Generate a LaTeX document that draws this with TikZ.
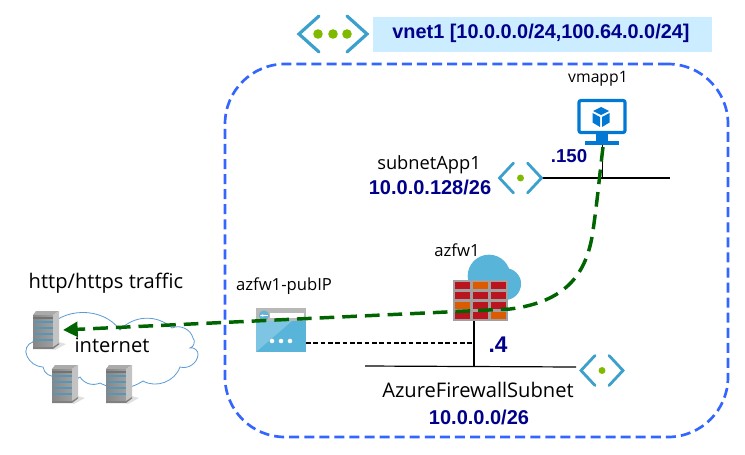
\documentclass[tikz,border=0pt]{standalone}
\usepackage{fontspec}
\setmainfont{Open Sans}
\newfontfamily\boldlab{Liberation Sans}
\usetikzlibrary{arrows.meta}
\definecolor{navy1}{RGB}{0,0,139}
\definecolor{dashblue}{RGB}{51,102,255}
\definecolor{flowgreen}{RGB}{0,100,0}
\definecolor{azblue}{RGB}{0,120,212}
\definecolor{chev}{RGB}{60,160,205}
\definecolor{dotgreen}{RGB}{127,186,0}
\definecolor{boxblue}{RGB}{204,236,255}
\definecolor{cloudline}{RGB}{91,155,213}
\definecolor{fwred}{RGB}{186,20,30}
\definecolor{fworange}{RGB}{221,91,0}
\definecolor{fwgrey}{RGB}{160,160,160}
\definecolor{ipblue}{RGB}{89,180,217}
\definecolor{iplight}{RGB}{125,197,226}
\definecolor{srvfront}{RGB}{135,135,135}
\definecolor{srvside}{RGB}{195,195,195}
\definecolor{srvtop}{RGB}{170,170,170}
\definecolor{srvstripe}{RGB}{85,150,185}
\tikzset{
  x=0.75pt,y=-0.75pt,
  lab/.style={inner sep=0pt,font=\fontsize{12.5pt}{14pt}\selectfont},
  biglab/.style={inner sep=0pt,font=\fontsize{15.1pt}{17pt}\selectfont},
  addr/.style={inner sep=0pt,text=navy1,font=\boldlab\bfseries\fontsize{15pt}{17pt}\selectfont},
  wire/.style={draw=black,line width=0.9pt},
  flow/.style={draw=flowgreen,line width=2.6pt,dash pattern=on 11pt off 6pt,-{Triangle[length=11pt,width=11pt]}},
  iconbox/.style={inner sep=0pt,outer sep=0pt,minimum width=#1*0.75pt},
  chevron/.style={draw=chev,line width=2.1pt,line cap=round},
  subneticon/.pic={
    \draw[chevron] (-7,-15) -- (-21,0) -- (-7,15);
    \draw[chevron] (7,-15) -- (21,0) -- (7,15);
    \fill[dotgreen] (0,0) circle (2.6pt);
  },
  servericon/.pic={
    \fill[black!12] (6,19) -- (13,12) -- (20,14) -- (9,20) -- cycle;
    \fill[srvtop] (-13,-15) -- (-10,-19) -- (13,-19) -- (7,-15) -- cycle;
    \shade[left color=srvfront,right color=srvfront!80!white] (-13,-15) rectangle (7,17);
    \fill[srvside] (7,-15) -- (13,-19) -- (13,13) -- (7,17) -- cycle;
    \fill[black!55] (-13,-13) rectangle (7,-11.5);
    \foreach \yy in {-9,-3,3,9}{\fill[srvstripe] (-12,\yy) rectangle (7,\yy+2.4);}
    \fill[black!50] (-13,17) -- (7,17) -- (13,13) -- (13,14.5) -- (7,19) -- (-13,19) -- cycle;
  },
}
\begin{document}
\begin{tikzpicture}
\useasboundingbox (0,0) rectangle (745,454);
% vnet frame
\node[draw=dashblue,line width=2pt,dash pattern=on 7.5pt off 3.8pt,rounded corners=45pt,
  minimum width=503*0.75pt,minimum height=373*0.75pt,inner sep=0pt] (vnetframe) at (476.5,250.5) {};
% vnet header
\node[fill=boxblue,inner sep=0pt,minimum width=339*0.75pt,minimum height=35*0.75pt] (vnetbox) at (542.5,34.5) {};
\node[inner sep=0pt,text=navy1,font=\boldlab\bfseries\fontsize{14.9pt}{17pt}\selectfont] (vnettext) at (541,33.5) {vnet1 [10.0.0.0/24,100.64.0.0/24]};
\node[iconbox=70,minimum height=38*0.75pt] (vneticon) at (333,34) {};
\draw[chevron,line width=2.4pt] (319,16) -- (299,34) -- (319,52);
\draw[chevron,line width=2.4pt] (347,16) -- (367,34) -- (347,52);
\foreach \xx in {318,333,347}{\fill[dotgreen] (\xx,34) circle (3.6pt);}
% cloud
\draw[draw=cloudline,line width=0.6pt,fill=white] (27,356)
  to[bend left=55] (33,342) to[bend left=50] (45,331) to[bend left=55] (120,330)
  to[bend left=45] (172,328) to[bend left=50] (193,338) to[bend left=60] (190,348)
  to[bend left=60] (198,355) to[bend left=50] (180,367) to[bend left=50] (143,381)
  to[bend left=30] (100,383) to[bend left=40] (80,377) to[bend left=40] (57,376)
  to[bend left=50] (43,367) to[bend left=30] (27,356) -- cycle;
\node[biglab] (internet) at (112,345) {internet};
% servers
\node[iconbox=26,minimum height=37*0.75pt] (srvA) at (46,330) {};
\node[iconbox=26,minimum height=37*0.75pt] (srvB) at (65,384) {};
\node[iconbox=26,minimum height=37*0.75pt] (srvC) at (119,384) {};
\pic at (srvA) {servericon};
\pic at (srvB) {servericon};
\pic at (srvC) {servericon};
% subnet lines
\coordinate (appL) at (542,178);
\coordinate (appR) at (670,178);
\coordinate (fwsL) at (365,366);
\coordinate (fwsR) at (576,367);
\draw[wire] (appL) -- (appR);
\draw[wire] (fwsL) -- (fwsR);
% firewall cloud
\fill[ipblue] (489,276) circle (16pt);
\fill[ipblue] (484,294) circle (13pt);
\fill[ipblue] (505,284) circle (12pt);
\fill[ipblue] (509,283) circle (9pt);
% firewall
\node[fill=fwgrey,inner sep=0pt,outer sep=0pt,minimum width=55*0.75pt,minimum height=41*0.75pt] (fw) at (480.5,300.5) {};
\foreach \cx/\cy/\cc in {
  455/282/fwred,473/282/fworange,491/282/fwred,
  455/292/fwred,473/292/fwred,491/292/fwred,
  455/302/fworange,473/302/fwred,491/302/fwred,
  455/312/fwred,473/312/fwred,491/312/fworange}{
  \fill[\cc] (\cx,\cy) rectangle ++(15,7.2);
}
% public IP
\node[fill=ipblue,inner sep=0pt,outer sep=0pt,minimum width=50*0.75pt,minimum height=44*0.75pt] (pip) at (281,330) {};
\fill[iplight] (256,352) -- (256,321) -- (292,321) -- cycle;
\fill[black!28] (256,308) rectangle (306,321);
\fill[white] (270,313) rectangle (304,318);
\fill[chev!80!white] (264,315.5) circle (3.8pt);
\draw[white,line width=0.8pt,-{Stealth[length=2.5pt]}] (268,315.5) -- (260,315.5);
\foreach \xx in {272,281,290}{\fill[white] (\xx,341) circle (1.7pt);}
% VM
\node[draw=azblue,line width=2.4pt,fill=white,rounded corners=1.5pt,inner sep=0pt,outer sep=0pt,
  minimum width=46*0.75pt,minimum height=32*0.75pt] (vm) at (602,116.5) {};
\fill[azblue] (596,134) rectangle (608,141);
\fill[azblue] (585,141) -- (619,141) -- (619,145) -- (585,145) -- cycle;
\fill[azblue] (601,107) -- (609,111) -- (601,115) -- (593,111) -- cycle;
\fill[azblue] (592.5,113) -- (600,117) -- (600,127) -- (592.5,122.5) -- cycle;
\fill[azblue] (609.5,113) -- (602,117) -- (602,127) -- (609.5,122.5) -- cycle;
\coordinate (vmfoot) at (602,145);
\coordinate (vmdrop) at (602,178);
\draw[wire,line width=0.7pt] (vmfoot) -- (vmdrop);
% subnet icons
\node[iconbox=42,minimum height=30*0.75pt] (appicon) at (520.5,178) {};
\pic at (appicon) {subneticon};
\node[iconbox=45,minimum height=31*0.75pt] (fwsicon) at (602,370.5) {};
\pic at (fwsicon) {subneticon};
% connectors
\coordinate (fwfoot) at (474,321);
\coordinate (fwdrop) at (474,366);
\coordinate (fwjoin) at (474,343);
\draw[wire] (fw.south -| fwfoot) -- (fwdrop);
\draw[draw=black,line width=0.8pt,dash pattern=on 3.5pt off 2pt] (pip.east |- fwjoin) -- (fwjoin);
% labels
\node[lab,font=\fontsize{11.8pt}{14pt}\selectfont] (vmlabel) at (598,79) {vmapp1};
\node[addr,font=\boldlab\bfseries\fontsize{14pt}{16pt}\selectfont] (vmaddr) at (569,156) {.150};
\node[biglab,font=\fontsize{13.7pt}{16pt}\selectfont] (applabel) at (429,165) {subnetApp1};
\node[addr] (appaddr) at (430,187) {10.0.0.128/26};
\node[lab] (fwlabel) at (457,250) {azfw1};
\node[addr,font=\boldlab\bfseries\fontsize{17pt}{18pt}\selectfont] (fwaddr) at (498,345) {.4};
\node[biglab] (fwslabel) at (478,390) {AzureFirewallSubnet};
\node[addr] (fwsaddr) at (479,417) {10.0.0.0/26};
\node[biglab] (traffic) at (106,283) {http/https traffic};
\node[lab] (piplabel) at (284,286) {azfw1-pubIP};
% traffic flow
\coordinate (flowstart) at (603,147);
\coordinate (flowbend) at (592,237);
\coordinate (flowstraight) at (510,309);
\draw[flow] (flowstart) .. controls (599,180) and (597,205) .. (flowbend)
  .. controls (585,275) and (565,302) .. (flowstraight) -- ([xshift=3pt]srvA.east);
\end{tikzpicture}
\end{document}
